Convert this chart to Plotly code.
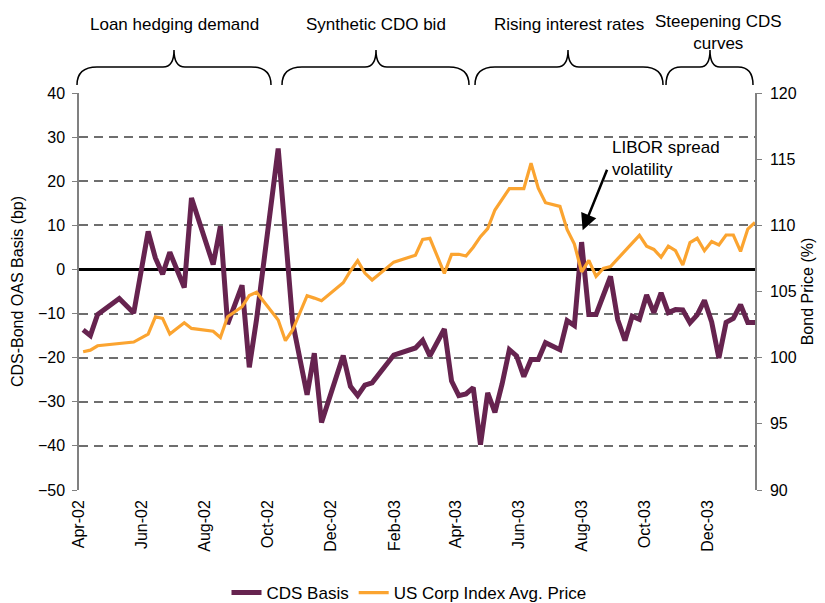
import datetime as dt
import plotly.graph_objects as go

# ---------------- data ----------------
start_date = dt.date(2002, 4, 5)
week_index = [0, 1, 2, 5, 7, 9, 10, 11, 12, 14, 15, 18, 19, 20, 22, 23, 24, 27, 28, 29,
              31, 32, 33, 36, 37, 38, 39, 40, 43, 46, 47, 48, 50, 51, 52, 53, 54, 55, 56, 57,
              58, 59, 60, 61, 62, 63, 64, 66, 67, 68, 69, 70, 71, 72, 73, 74, 75, 76, 77, 78,
              79, 80, 81, 82, 83, 84, 85, 86, 87, 88, 89, 90, 91, 92, 93]
dates = [start_date + dt.timedelta(days=7 * k) for k in week_index]

cds_basis = [-13.7, -15.0, -10.2, -6.6, -9.9, 8.6, 2.6, -1.1, 3.9, -4.1, 16.2, 1.1, 9.8, -12.4,
             -3.6, -22.2, -11.4, 27.4, 8.0, -12.0, -28.4, -19.0, -34.7, -19.5, -26.5, -28.6,
             -26.2, -25.7, -19.4, -17.8, -16.1, -19.6, -13.5, -25.3, -28.6, -28.2, -26.8,
             -39.7, -28.0, -32.4, -25.9, -18.2, -19.6, -24.3, -20.4, -20.4, -16.6, -18.2,
             -11.6, -12.7, 6.2, -10.2, -10.2, -5.9, -1.6, -11.4, -16.1, -10.6, -11.3, -5.8,
             -9.8, -5.3, -9.8, -9.1, -9.2, -12.1, -10.3, -7.0, -11.9, -20.1, -12.0, -11.1,
             -8.0, -12.0, -12.0]

corp_price = [100.45, 100.57, 100.90, 101.05, 101.18, 101.78, 103.09, 102.97, 101.78, 102.64,
              102.21, 102.00, 101.53, 103.09, 103.85, 104.70, 104.94, 102.84, 101.28, 102.09,
              104.68, 104.50, 104.30, 105.66, 106.55, 107.32, 106.39, 105.87, 107.22, 107.74,
              108.94, 109.02, 106.37, 107.81, 107.81, 107.68, 108.35, 109.14, 109.75, 111.16,
              111.95, 112.77, 112.77, 112.77, 114.69, 112.80, 111.71, 111.43, 109.67, 108.58,
              106.49, 107.35, 106.14, 106.75, 106.88, 107.50, 108.05, 108.66, 109.24, 108.42,
              108.18, 107.59, 108.42, 108.08, 107.00, 108.69, 109.02, 108.08, 108.78, 108.51,
              109.27, 109.27, 108.03, 109.72, 110.22]

tick_dates = ["2002-04-01", "2002-06-01", "2002-08-01", "2002-10-01", "2002-12-01",
              "2003-02-01", "2003-04-01", "2003-06-01", "2003-08-01", "2003-10-01",
              "2003-12-01"]
tick_labels = ["Apr-02", "Jun-02", "Aug-02", "Oct-02", "Dec-02", "Feb-03", "Apr-03",
               "Jun-03", "Aug-03", "Oct-03", "Dec-03"]

periods = ["Loan hedging demand", "Synthetic CDO bid", "Rising interest rates",
           "Steepening CDS<br>curves"]

# ---------------- layout helpers ----------------
# the page body adds an 8px offset, so the figure is sized to fit the 825x603 window
OFF = 8
W, H = 825 - OFF, 603 - OFF
L, T = 79 - OFF, 93 - OFF          # plot area left/top in figure coords
PW, PH = 676, 397
R, B = W - L - PW, H - T - PH
FONT = "Liberation Sans, Arial, sans-serif"
PURPLE = "#66234F"
ORANGE = "#FBA430"


def px(x):  # page pixel -> paper
    return (x - OFF - L) / PW


def py(y):  # page pixel -> paper
    return (T + PH - (y - OFF)) / PH


def brace_path(x0, x1, xm, r=20, r2=11, yb=85, yl=67, yt=50):
    pts = [
        f"M {px(x0)},{py(yb)}",
        f"Q {px(x0)},{py(yl)} {px(x0 + r)},{py(yl)}",
        f"L {px(xm - r2)},{py(yl)}",
        f"Q {px(xm)},{py(yl)} {px(xm)},{py(yt)}",
        f"Q {px(xm)},{py(yl)} {px(xm + r2)},{py(yl)}",
        f"L {px(x1 - r)},{py(yl)}",
        f"Q {px(x1)},{py(yl)} {px(x1)},{py(yb)}",
    ]
    return " ".join(pts)


fig = go.Figure()
fig.add_trace(go.Scatter(x=dates, y=cds_basis, mode="lines", name="CDS Basis",
                         line=dict(color=PURPLE, width=5), yaxis="y"))
fig.add_trace(go.Scatter(x=dates, y=corp_price, mode="lines", name="US Corp Index Avg. Price",
                         line=dict(color=ORANGE, width=3.2), yaxis="y2"))

braces = [(77, 271, 174, 20, 11), (282, 469, 376, 20, 11), (475, 663, 568, 20, 11),
          (666, 753, 710, 15, 10)]
shapes = []
for x0, x1, xm, r, r2 in braces:
    shapes.append(dict(type="path", xref="paper", yref="paper",
                       path=brace_path(x0, x1, xm, r, r2),
                       line=dict(color="black", width=1.5)))

label_pos = [(174, 24), (376, 24), (569, 24), (718, 33)]
annotations = []
for text, (lx, ly) in zip(periods, label_pos):
    annotations.append(dict(text=text, xref="paper", yref="paper", x=px(lx), y=py(ly),
                            xanchor="center", yanchor="middle", showarrow=False,
                            font=dict(size=17, color="black", family=FONT)))

annotations.append(dict(text="LIBOR spread<br>volatility", xref="paper", yref="paper",
                        x=px(610), y=py(158), xanchor="left", yanchor="middle",
                        align="left", showarrow=False,
                        font=dict(size=17, color="black", family=FONT)))
annotations.append(dict(text="", xref="x", yref="y", x="2003-08-02", y=8.9,
                        ax=25, ay=-62, axref="pixel", ayref="pixel", showarrow=True,
                        arrowhead=2, arrowsize=1.3, arrowwidth=2.5, arrowcolor="black"))

fig.update_layout(
    width=W, height=H,
    margin=dict(l=L, r=R, t=T, b=B, autoexpand=False),
    paper_bgcolor="white", plot_bgcolor="white",
    font=dict(family=FONT, size=16, color="black"),
    showlegend=True,
    legend=dict(orientation="h", x=px(409), xanchor="center", y=py(593), yanchor="middle",
                font=dict(size=17, family=FONT, color="black"),
                bgcolor="rgba(0,0,0,0)", itemwidth=30, tracegroupgap=0),
    xaxis=dict(type="date", range=["2002-04-01", "2004-01-16"],
               tickmode="array", tickvals=tick_dates, ticktext=tick_labels,
               tickangle=-90, showgrid=False, zeroline=False, showline=False,
               ticks="", ticklabelstandoff=6, tickfont=dict(size=16, color="black")),
    yaxis=dict(range=[-50, 40], dtick=10, tick0=0, showgrid=True,
               gridcolor="#6E6E6E", griddash="9px,6px", gridwidth=1.6,
               zeroline=True, zerolinecolor="black", zerolinewidth=3,
               showline=True, linecolor="#808080", linewidth=1.5,
               ticks="outside", ticklen=5, tickcolor="#808080", ticklabelstandoff=4,
               tickfont=dict(size=16, color="black"),
               title=dict(text="CDS-Bond OAS Basis (bp)", standoff=10,
                          font=dict(size=16, color="black"))),
    yaxis2=dict(range=[90, 120], dtick=5, overlaying="y", side="right",
                showgrid=False, zeroline=False,
                showline=True, linecolor="#808080", linewidth=1.5,
                ticks="outside", ticklen=5, tickcolor="#808080", ticklabelstandoff=5,
                tickfont=dict(size=16, color="black"),
                title=dict(text="Bond Price (%)", standoff=6,
                           font=dict(size=16, color="black"))),
    shapes=shapes,
    annotations=annotations,
)

fig.write_html("out.html")
